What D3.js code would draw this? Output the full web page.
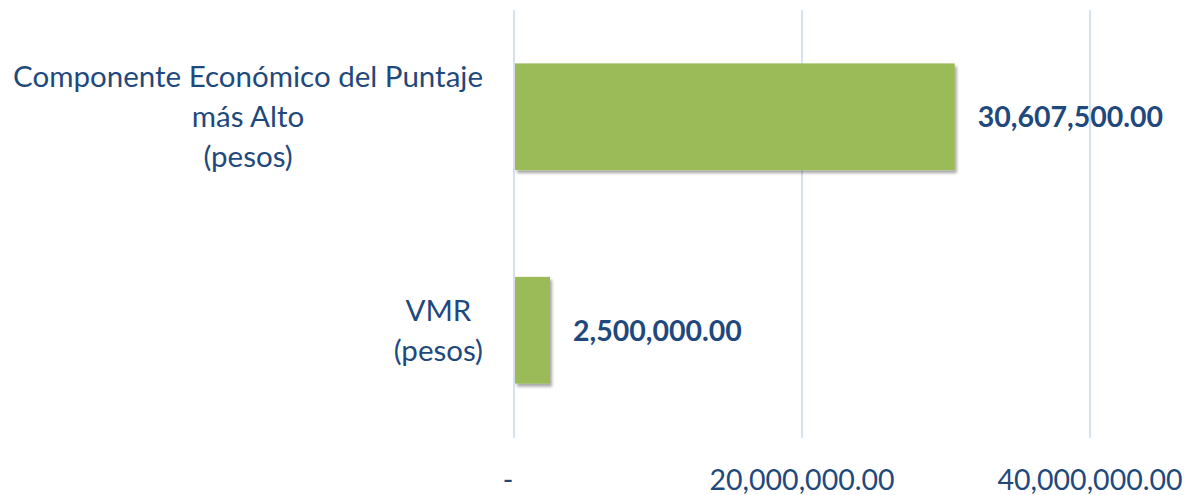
<!DOCTYPE html>
<html>
<head>
<meta charset="utf-8">
<script src="https://cdn.jsdelivr.net/npm/d3@7"></script>
<style>
  html, body { margin: 0; padding: 0; background: #fff; }
  svg { display: block; font-family: Lato, "Open Sans", sans-serif; }
</style>
</head>
<body>
<svg id="chart" width="1187" height="495"></svg>
<script>
const categories = [
  ['Componente Económico del Puntaje', 'más Alto', '(pesos)'],
  ['VMR', '(pesos)']
];
const values = [30607500, 2500000];
const tickValues = [0, 20000000, 40000000];
const tickLabels = ['-', '20,000,000.00', '40,000,000.00'];

const TEXT = '#1F497D';
const BAR = '#9BBB59';
const GRID = '#D4E1F2';

const svg = d3.select('#chart');
const x = d3.scaleLinear().domain([0, 40000000]).range([514, 1090]);
const y = d3.scaleBand().domain(d3.range(categories.length)).range([10, 437])
  .paddingInner(0.5).paddingOuter(0.25);

const defs = svg.append('defs');
const f = defs.append('filter').attr('id', 'shadow').attr('x', '-10%').attr('y', '-10%').attr('width', '130%').attr('height', '130%');
f.append('feGaussianBlur').attr('in', 'SourceAlpha').attr('stdDeviation', 1.5);
f.append('feOffset').attr('dx', 1.5).attr('dy', 3).attr('result', 'off');
f.append('feComponentTransfer').append('feFuncA').attr('type', 'linear').attr('slope', 0.35);
const m = f.append('feMerge');
m.append('feMergeNode');
m.append('feMergeNode').attr('in', 'SourceGraphic');

// gridlines
svg.append('g').selectAll('line').data(tickValues).join('line')
  .attr('x1', d => x(d)).attr('x2', d => x(d))
  .attr('y1', 10).attr('y2', 438)
  .attr('stroke', GRID).attr('stroke-width', 2);

// tick labels
svg.append('g').selectAll('text').data(tickValues).join('text')
  .attr('x', (d, i) => i === 0 ? x(d) - 6 : x(d))
  .attr('y', 490)
  .attr('text-anchor', 'middle')
  .attr('fill', TEXT).attr('font-size', 28.5)
  .text((d, i) => tickLabels[i]);

// bars
svg.append('g').selectAll('rect').data(values).join('rect')
  .attr('x', x(0) + 1).attr('y', (d, i) => y(i))
  .attr('width', d => x(d) - x(0) - 1).attr('height', y.bandwidth())
  .attr('fill', BAR).attr('filter', 'url(#shadow)');

// value labels
svg.append('g').selectAll('text').data(values).join('text')
  .attr('x', d => x(d) + 23)
  .attr('y', (d, i) => y(i) + y.bandwidth() / 2)
  .attr('dy', '0.36em')
  .attr('fill', TEXT).attr('font-size', 28.5).attr('font-weight', 'bold')
  .text(d => d3.format(',.2f')(d));

// category labels
const lineH = 40;
categories.forEach((lines, i) => {
  const g = svg.append('g');
  const cy = y(i) + y.bandwidth() / 2;
  const texts = g.selectAll('text').data(lines).join('text')
    .attr('y', (d, j) => cy + (j - (lines.length - 1) / 2) * lineH)
    .attr('dy', '0.36em')
    .attr('text-anchor', 'middle')
    .attr('fill', TEXT).attr('font-size', 29.5)
    .text(d => d);
  let w = 0;
  texts.each(function () { w = Math.max(w, this.getComputedTextLength()); });
  texts.attr('x', 483 - w / 2);
});
</script>
</body>
</html>
